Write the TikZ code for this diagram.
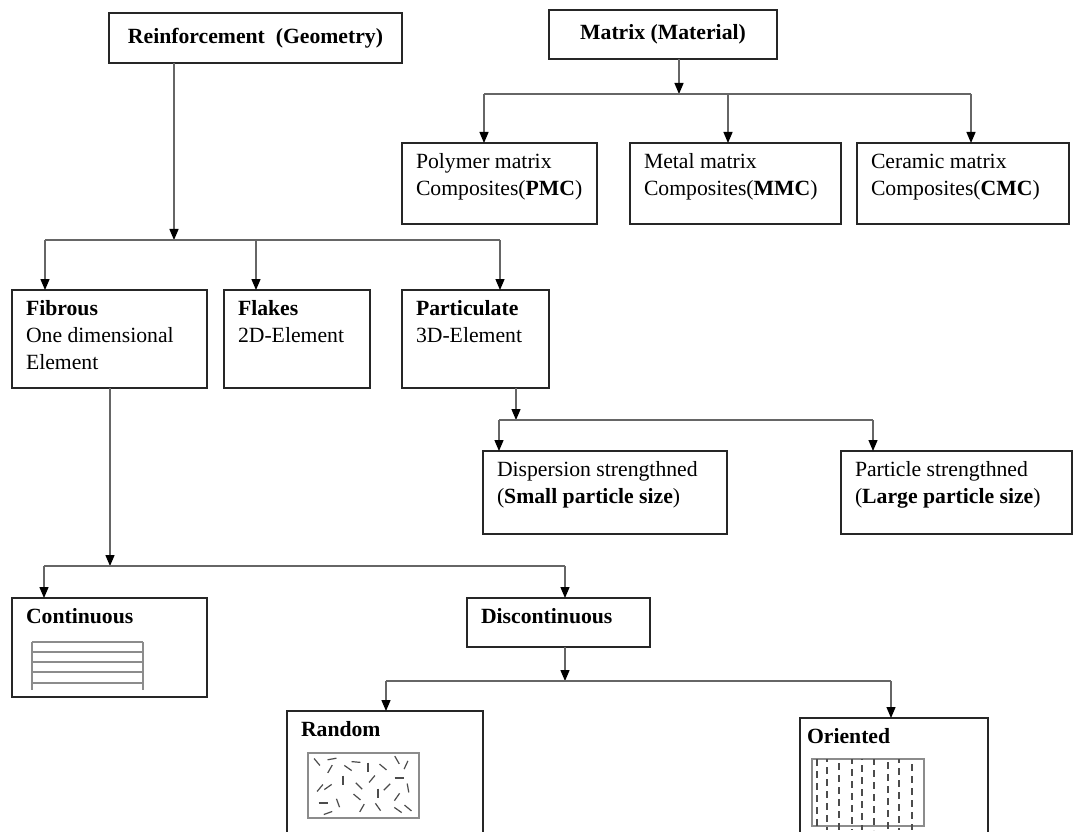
\documentclass[tikz,border=0pt]{standalone}
\usepackage{fontspec}
\setmainfont{Liberation Serif}
\usetikzlibrary{arrows.meta}

\tikzset{
  box/.style={draw=black!85, line width=1.3pt, anchor=north west, inner xsep=14pt, inner ysep=7pt, outer sep=0pt, font=\fontsize{21.7}{26.7}\selectfont},
  title/.style={draw=black!85, line width=1.3pt, anchor=north west, inner sep=0pt, outer sep=0pt, font=\fontsize{21.7}{26.7}\selectfont\bfseries},
  link/.style={draw=black!60, line width=1.3pt},
  arr/.style={link, -{Triangle[length=11pt,width=9pt,color=black]}},
  sketch/.style={draw=black!45, line width=1.3pt},
  fibre/.style={draw=black!70, line width=1.2pt},
}
% top aligned box text, inner width and height in pt
\newcommand{\cell}[3]{\parbox[c][#2pt][t]{#1pt}{\raggedright\strut #3}}

\begin{document}
\begin{tikzpicture}[x=1pt, y=-1pt]
\useasboundingbox[fill=white] (0,0) rectangle (1080,832);

% reinforcement branch
\node[title, minimum width=293pt, minimum height=50pt] (reinf) at (109,13) {Reinforcement~~(Geometry)};
\node[box] (fib) at (12,290) {\cell{167}{84}{\textbf{Fibrous}\\One dimensional\\Element}};
\node[box] (flakes) at (224,290) {\cell{118}{84}{\textbf{Flakes}\\2D-Element}};
\node[box] (part) at (402,290) {\cell{119}{84}{\textbf{Particulate}\\3D-Element}};
\node[box] (disp) at (483,451) {\cell{216}{69}{Dispersion strengthned\\(\textbf{Small particle size})}};
\node[box] (partic) at (841,451) {\cell{203}{69}{Particle strengthned\\(\textbf{Large particle size})}};
\node[box] (cont) at (12,598) {\cell{167}{85}{\textbf{Continuous}}};
\node[box] (discont) at (467,598) {\cell{155}{35}{\textbf{Discontinuous}}};
\node[box] (rand) at (287,711) {\cell{168}{126}{\textbf{Random}}};
\node[box, inner xsep=7pt] (orient) at (800,718) {\cell{174}{126}{\textbf{Oriented}}};

% matrix branch
\node[title, minimum width=228pt, minimum height=49pt] (matrix) at (549,10) {Matrix (Material)};
\node[box] (poly) at (402,143) {\cell{167}{67}{Polymer matrix\\Composites(\textbf{PMC})}};
\node[box] (metal) at (630,143) {\cell{183}{67}{Metal matrix\\Composites(\textbf{MMC})}};
\node[box] (ceram) at (857,143) {\cell{184}{67}{Ceramic matrix\\Composites(\textbf{CMC})}};

% bus lines
\coordinate (busA) at (0,240);
\coordinate (busB) at (0,94);
\coordinate (busC) at (0,420);
\coordinate (busD) at (0,566);
\coordinate (busE) at (0,681);

% ports
\coordinate (reinfout) at ([xshift=65pt]reinf.south west);
\coordinate (matout) at ([xshift=130pt]matrix.south west);
\coordinate (partout) at ([xshift=114pt]part.south west);
\coordinate (fibout) at ([xshift=98pt]fib.south west);
\coordinate (discout) at ([xshift=98pt]discont.south west);
\coordinate (fibin) at ([xshift=33pt]fib.north west);
\coordinate (flakesin) at ([xshift=32pt]flakes.north west);
\coordinate (partin) at ([xshift=98pt]part.north west);
\coordinate (polyin) at ([xshift=82pt]poly.north west);
\coordinate (metalin) at ([xshift=98pt]metal.north west);
\coordinate (ceramin) at ([xshift=114pt]ceram.north west);
\coordinate (dispin) at ([xshift=16pt]disp.north west);
\coordinate (particin) at ([xshift=32pt]partic.north west);
\coordinate (contin) at ([xshift=32pt]cont.north west);
\coordinate (discin) at ([xshift=98pt]discont.north west);
\coordinate (randin) at ([xshift=99pt]rand.north west);
\coordinate (orientin) at ([xshift=91pt]orient.north west);

% connectors
\draw[arr] (reinfout) -- (reinfout |- busA);
\draw[link] (fibin |- busA) -- (partin |- busA);
\foreach \n in {fibin,flakesin,partin}
  \draw[arr] (\n |- busA) -- (\n);

\draw[arr] (matout) -- (matout |- busB);
\draw[link] (polyin |- busB) -- (ceramin |- busB);
\foreach \n in {polyin,metalin,ceramin}
  \draw[arr] (\n |- busB) -- (\n);

\draw[arr] (partout) -- (partout |- busC);
\draw[link] (dispin |- busC) -- (particin |- busC);
\foreach \n in {dispin,particin}
  \draw[arr] (\n |- busC) -- (\n);

\draw[arr] (fibout) -- (fibout |- busD);
\draw[link] (contin |- busD) -- (discin |- busD);
\foreach \n in {contin,discin}
  \draw[arr] (\n |- busD) -- (\n);

\draw[arr] (discout) -- (discout |- busE);
\draw[link] (randin |- busE) -- (orientin |- busE);
\foreach \n in {randin,orientin}
  \draw[arr] (\n |- busE) -- (\n);

% continuous fibres
\foreach \y in {642,652,662,672,683}
  \draw[sketch] (32,\y) -- (143,\y);
\draw[sketch] (32,642) -- (32,690);
\draw[sketch] (143,642) -- (143,690);

% random fibres
\draw[sketch, line width=1.6pt] (308,753) rectangle (419,818);
\foreach \x/\y/\a in {317/762/50, 332/759/-10, 330/769/-60, 348/768/35, 356/762/5,
    368/767/90, 383/767/40, 397/760/60, 406/765/-65, 343/780/90, 359/786/45,
    372/779/-50, 320/788/-50, 328/787/-35, 378/793/90, 387/787/-45, 399/778/0,
    408/788/80, 323/803/0, 338/803/70, 357/797/40, 362/808/-60, 378/807/55,
    397/797/-55, 408/808/40, 328/813/-20, 398/810/35}
  \draw[fibre] (\x,\y) ++(\a:-4.5) -- ++(\a:9);

% oriented fibres
\draw[sketch, line width=1.6pt] (812,759) rectangle (924,826);
\foreach \x/\p in {817/0, 827/4, 839/8, 852/2, 862/6, 874/1, 888/9, 899/3, 912/7}
  \draw[fibre, dash pattern=on 7pt off 5pt, dash phase=\p pt] (\x,759) -- (\x,830);
\end{tikzpicture}
\end{document}
